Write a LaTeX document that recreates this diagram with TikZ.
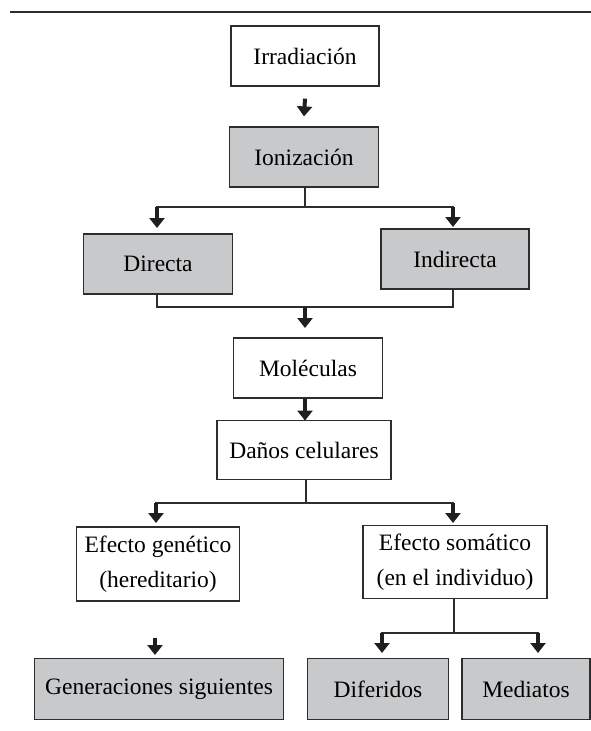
\documentclass[tikz,border=0pt]{standalone}
\usepackage{fontspec}
\setmainfont{Liberation Serif}
\usetikzlibrary{arrows.meta}
\definecolor{boxgray}{RGB}{200,201,203}
\definecolor{inkgray}{RGB}{45,45,45}
\begin{document}
\begin{tikzpicture} [
  x=1pt, y=-1pt,
  box/.style= {draw=inkgray,line width=1.2pt,fill=white,inner sep=0pt,align=center,
    font=\fontsize{23.5}{35}\selectfont,minimum height=60pt},
  grey box/.style= {box,fill=boxgray},
  link/.style= {draw=inkgray,line width=1.2pt,line cap=rect},
  arr/.style= {draw=black!88,line width=4pt,-{Triangle[width=15pt,length=10pt]}},
]
\useasboundingbox (0,0) rectangle (591,731);
\draw[link] (11,12) -- (591,12);

\node (irr) [box,minimum width=148pt] at (305,56) {Irradiación};
\node (ion) [grey box,minimum width=149pt] at (304,157) {Ionización};
\node (dir) [grey box,minimum width=149pt] at (158,264) {Directa};
\node (ind) [grey box,minimum width=148pt] at (455,259) {Indirecta};
\node (mol) [box,minimum width=149pt] at (308,368) {Moléculas};
\node (dan) [box,minimum width=174pt,minimum height=59pt] at (304,450) {Daños celulares};
\node (gen) [box,minimum width=163pt,minimum height=74pt] at (158,564) {Efecto genético\\(hereditario)};
\node (som) [box,minimum width=184pt,minimum height=73pt] at (455,562) {Efecto somático\\(en el individuo)};
\node (sig) [grey box,minimum width=249pt,minimum height=61pt] at (159,689) {Generaciones siguientes};
\node (dif) [grey box,minimum width=141pt,minimum height=61pt] at (378,689) {Diferidos};
\node (med) [grey box,minimum width=128pt,minimum height=61pt] at (526,689) {Mediatos};

\coordinate (s1) at (305,207);
\coordinate (s1l) at (157,207);
\coordinate (s1r) at (453,207);
\coordinate (j1) at (305,307);
\coordinate (s2) at (306,503);
\coordinate (s2l) at (156,503);
\coordinate (s2r) at (453,503);
\coordinate (s3) at (454,633);
\coordinate (s3l) at (382,633);
\coordinate (s3r) at (538,633);
\coordinate (g1) at (155,638);

\draw[arr] ([yshift=-12pt]irr.south) -- ([yshift=10pt]ion.north);
\draw[link] (ion.south -| s1) -- (s1);
\draw[link] (s1l) -- (s1r);
\draw[arr] (s1l) -- ++(0,21);
\draw[arr] (s1r) -- ++(0,20);
\draw[link] (dir.south -| s1l) |- (j1) -| (ind.south -| s1r);
\draw[arr] (j1) -- ++(0,21);
\draw[arr] (mol.south -| s1) -- ++(0,22);
\draw[link] (dan.south -| s2) -- (s2);
\draw[link] (s2l) -- (s2r);
\draw[arr] (s2l) -- ++(0,20);
\draw[arr] (s2r) -- ++(0,20);
\draw[arr] (g1) -- ++(0,17);
\draw[link] (som.south -| s3) -- (s3);
\draw[link] (s3l) -- (s3r);
\draw[arr] (s3l) -- ++(0,20);
\draw[arr] (s3r) -- ++(0,20);
\end{tikzpicture}
\end{document}
